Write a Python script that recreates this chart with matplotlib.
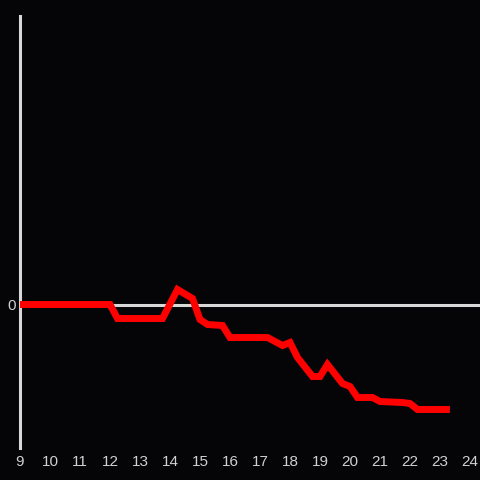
import matplotlib
matplotlib.use("Agg")
import matplotlib.pyplot as plt

# hours of the day and the value at each (0 = baseline)
hours = [9, 12, 12.25, 13.75, 14.25, 14.75, 15, 15.25, 15.75, 16, 17.25, 17.75,
         18, 18.25, 18.75, 19, 19.25, 19.75, 20, 20.25, 20.75, 21, 21.75, 22,
         22.25, 23.33]
values = [0, 0, -14, -14, 15, 6, -15, -20, -21, -33, -33, -41,
          -38, -53, -72, -72, -60, -79, -82, -93, -93, -97, -98, -99,
          -105, -105]

xticks = list(range(9, 25))

bg = "#050507"
fg = "#d8d8d8"

plt.rcParams["font.family"] = ["Liberation Sans", "DejaVu Sans"]

fig = plt.figure(figsize=(4.8, 4.8), dpi=100, facecolor=bg)
ax = fig.add_axes([20 / 480, 32 / 480, 460 / 480, 432 / 480])
ax.set_facecolor(bg)

ax.axhline(0, color=fg, lw=2.2, zorder=1)
ax.plot(hours, values, color="#ff0000", lw=5, solid_joinstyle="miter",
        solid_capstyle="butt", zorder=3)

ax.set_xlim(9, 9 + 460 / 30)
ax.set_ylim(-143.5, 288.5)
ax.set_xticks(xticks)
ax.set_yticks([0])

for side in ["top", "right", "bottom"]:
    ax.spines[side].set_visible(False)
ax.spines["left"].set_color(fg)
ax.spines["left"].set_linewidth(2.2)

ax.tick_params(axis="both", length=0, colors="#d0d0d0", labelsize=11)
ax.tick_params(axis="x", pad=5)
ax.tick_params(axis="y", pad=3)

fig.savefig("out.png", dpi=100, facecolor=bg)
